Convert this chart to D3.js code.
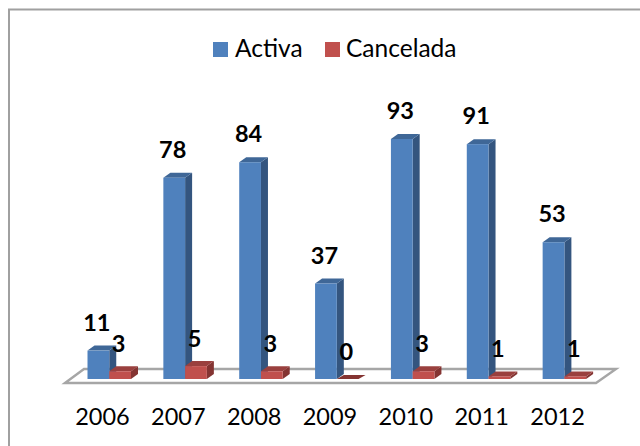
<!DOCTYPE html>
<html><head><meta charset="utf-8">
<script src="https://cdn.jsdelivr.net/npm/d3@7/dist/d3.min.js"></script>
<style>html,body{margin:0;padding:0;background:#fff}svg{display:block}text{font-family:Lato,"Open Sans",sans-serif}</style>
</head><body>
<svg id="c" width="640" height="446"></svg>
<script>
const years = ["2006","2007","2008","2009","2010","2011","2012"];
const activa = [11,78,84,37,93,91,53];
const cancelada = [3,5,3,0,3,1,1];
const seriesNames = ["Activa","Cancelada"];
const frontColors = ["#4f81bd","#c0504d"];
const sideColors = ["#34557f","#843432"];
const topColors = ["#3f6797","#9a403e"];

const svg = d3.select("#c");
const dx = 7, dy = 5;
const x = d3.scaleBand().domain(years).range([69,600]).paddingInner(0).paddingOuter(0);
const sub = d3.scaleBand().domain(seriesNames).range([18.5,62]);
const y = d3.scaleLinear().domain([0,93]).range([379,139]);

const fl = d3.line();
svg.append("path").attr("d",fl([[9,446],[9,9.5],[640,9.5]]))
  .attr("fill","none").attr("stroke","#a0a0a0").attr("stroke-width",2);

svg.append("path").attr("d",fl([[65,383],[84,369],[616,369],[596,383]])+"Z")
  .attr("fill","#fff").attr("stroke","#a6a6a6").attr("stroke-width",2.4).attr("stroke-linejoin","miter");

function bar(g,xl,w,val,s){
  const t=y(val), b=y(0);
  if(val>0){
    g.append("path").attr("d",fl([[xl+w,t],[xl+w+dx,t-dy],[xl+w+dx,b-dy],[xl+w,b]])+"Z").attr("fill",sideColors[s]);
    g.append("path").attr("d",fl([[xl,t],[xl+dx,t-dy],[xl+w+dx,t-dy],[xl+w,t]])+"Z").attr("fill",topColors[s]);
    g.append("rect").attr("x",xl).attr("y",t).attr("width",w).attr("height",b-t).attr("fill",frontColors[s]);
  } else {
    g.append("path").attr("d",fl([[xl,b],[xl+dx,b-dy+1],[xl+w+dx,b-dy+1],[xl+w,b]])+"Z").attr("fill",sideColors[s]);
  }
}
const g = svg.append("g");
years.forEach((yr,i)=>{
  bar(g,x(yr)+sub("Activa"),sub.bandwidth(),activa[i],0);
  bar(g,x(yr)+sub("Cancelada"),sub.bandwidth(),cancelada[i],1);
});
const lab = svg.append("g").attr("font-size",23.5).attr("font-weight",700).attr("fill","#000").attr("text-anchor","middle");
years.forEach((yr,i)=>{
  lab.append("text").attr("x",x(yr)+sub("Activa")+sub.bandwidth()/2-1.5).attr("y",y(activa[i])-20).text(activa[i]);
  lab.append("text").attr("x",x(yr)+sub("Cancelada")+sub.bandwidth()/2-1.5).attr("y",y(cancelada[i])-19).text(cancelada[i]);
});
const axis = svg.append("g").attr("font-size",23.5).attr("fill","#000").attr("text-anchor","middle");
years.forEach(yr=>{
  axis.append("text").attr("x",x(yr)+x.bandwidth()/2-4.5).attr("y",425).text(yr);
});
const leg = svg.append("g");
const legX = [213,325], legT=[235,346];
seriesNames.forEach((n,i)=>{
  leg.append("rect").attr("x",legX[i]).attr("y",42).attr("width",15).attr("height",15).attr("fill",frontColors[i]);
  leg.append("text").attr("x",legT[i]).attr("y",57).attr("font-size",24.5).attr("fill","#000").text(n);
});
</script>
</body></html>
